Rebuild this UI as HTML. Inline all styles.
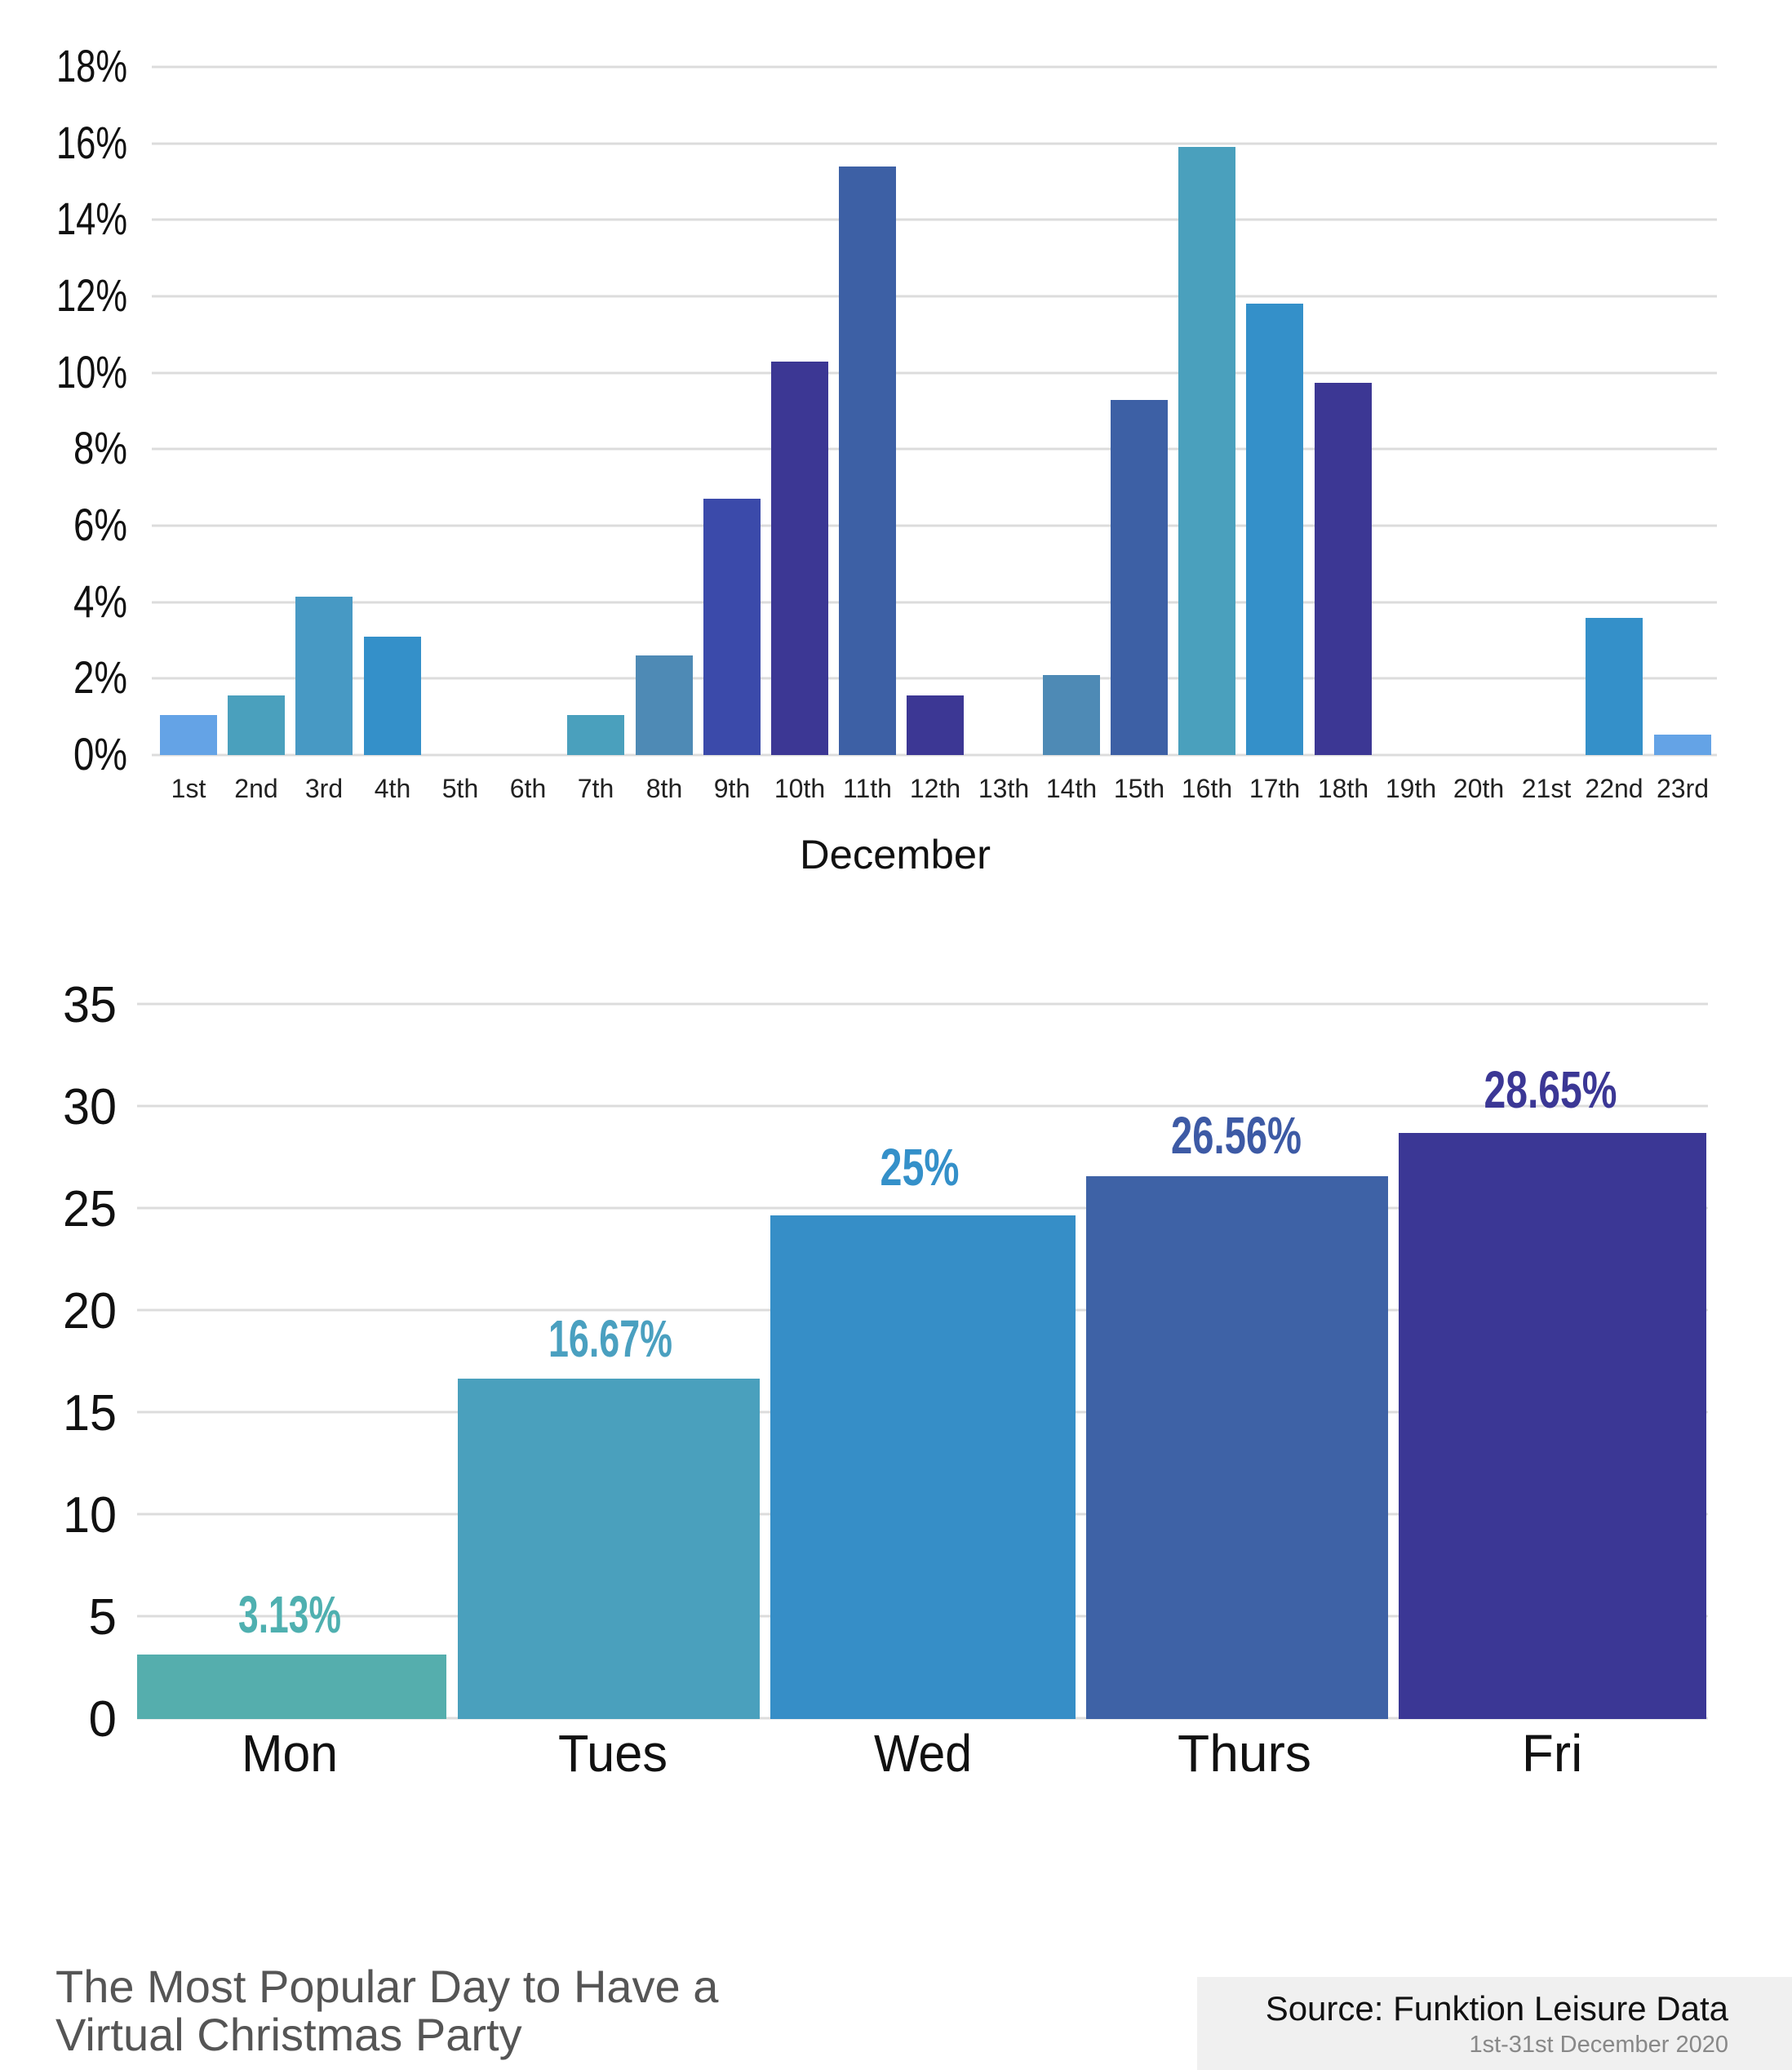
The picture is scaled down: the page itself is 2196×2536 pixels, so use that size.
<!DOCTYPE html>
<html><head><meta charset="utf-8"><style>
html,body{margin:0;padding:0;background:#fff;}
svg{display:block;}
text{font-family:"Liberation Sans Narrow","Liberation Sans",sans-serif;}
</style></head><body>
<svg width="2196" height="2536" viewBox="0 0 2196 2536" xmlns="http://www.w3.org/2000/svg">
<rect width="2196" height="2536" fill="#fff"/>
<g stroke="#dcdcdc" stroke-width="3">
<line x1="186" x2="2104" y1="82" y2="82"/>
<line x1="186" x2="2104" y1="176" y2="176"/>
<line x1="186" x2="2104" y1="269" y2="269"/>
<line x1="186" x2="2104" y1="363" y2="363"/>
<line x1="186" x2="2104" y1="457" y2="457"/>
<line x1="186" x2="2104" y1="550" y2="550"/>
<line x1="186" x2="2104" y1="644" y2="644"/>
<line x1="186" x2="2104" y1="738" y2="738"/>
<line x1="186" x2="2104" y1="831" y2="831"/>
<line x1="186" x2="2104" y1="925" y2="925"/>
</g>
<g font-size="56" fill="#111" text-anchor="end" lengthAdjust="spacingAndGlyphs">
<text x="156" y="100" textLength="87" lengthAdjust="spacingAndGlyphs">18%</text>
<text x="156" y="194" textLength="87" lengthAdjust="spacingAndGlyphs">16%</text>
<text x="156" y="287" textLength="87" lengthAdjust="spacingAndGlyphs">14%</text>
<text x="156" y="381" textLength="87" lengthAdjust="spacingAndGlyphs">12%</text>
<text x="156" y="475" textLength="87" lengthAdjust="spacingAndGlyphs">10%</text>
<text x="156" y="568" textLength="66" lengthAdjust="spacingAndGlyphs">8%</text>
<text x="156" y="662" textLength="66" lengthAdjust="spacingAndGlyphs">6%</text>
<text x="156" y="756" textLength="66" lengthAdjust="spacingAndGlyphs">4%</text>
<text x="156" y="849" textLength="66" lengthAdjust="spacingAndGlyphs">2%</text>
<text x="156" y="943" textLength="66" lengthAdjust="spacingAndGlyphs">0%</text>
</g>
<g>
<rect x="196" y="876" width="70" height="49" fill="#64a3e6"/>
<rect x="279" y="852" width="70" height="73" fill="#4aa0bd"/>
<rect x="362" y="731" width="70" height="194" fill="#4799c4"/>
<rect x="446" y="780" width="70" height="145" fill="#3490c9"/>
<rect x="695" y="876" width="70" height="49" fill="#4aa0bd"/>
<rect x="779" y="803" width="70" height="122" fill="#4e8ab5"/>
<rect x="862" y="611" width="70" height="314" fill="#3b4aaa"/>
<rect x="945" y="443" width="70" height="482" fill="#3c3794"/>
<rect x="1028" y="204" width="70" height="721" fill="#3d60a5"/>
<rect x="1111" y="852" width="70" height="73" fill="#3c3794"/>
<rect x="1278" y="827" width="70" height="98" fill="#4e8ab5"/>
<rect x="1361" y="490" width="70" height="435" fill="#3d60a5"/>
<rect x="1444" y="180" width="70" height="745" fill="#4aa0bd"/>
<rect x="1527" y="372" width="70" height="553" fill="#3490c9"/>
<rect x="1611" y="469" width="70" height="456" fill="#3c3794"/>
<rect x="1943" y="757" width="70" height="168" fill="#3490c9"/>
<rect x="2027" y="900" width="70" height="25" fill="#64a3e6"/>
</g>
<g font-size="32" fill="#222" text-anchor="middle">
<text x="231" y="977">1st</text><text x="314" y="977">2nd</text><text x="397" y="977">3rd</text><text x="481" y="977">4th</text>
<text x="564" y="977">5th</text><text x="647" y="977">6th</text><text x="730" y="977">7th</text><text x="814" y="977">8th</text>
<text x="897" y="977">9th</text><text x="980" y="977">10th</text><text x="1063" y="977">11th</text><text x="1146" y="977">12th</text>
<text x="1230" y="977">13th</text><text x="1313" y="977">14th</text><text x="1396" y="977">15th</text><text x="1479" y="977">16th</text>
<text x="1562" y="977">17th</text><text x="1646" y="977">18th</text><text x="1729" y="977">19th</text><text x="1812" y="977">20th</text>
<text x="1895" y="977">21st</text><text x="1978" y="977">22nd</text><text x="2062" y="977">23rd</text>
</g>
<text x="1097" y="1064" font-size="50" fill="#111" text-anchor="middle" textLength="234" lengthAdjust="spacingAndGlyphs">December</text>

<g stroke="#dcdcdc" stroke-width="3">
<line x1="168" x2="2093" y1="1230" y2="1230"/>
<line x1="168" x2="2093" y1="1355" y2="1355"/>
<line x1="168" x2="2093" y1="1480" y2="1480"/>
<line x1="168" x2="2093" y1="1605" y2="1605"/>
<line x1="168" x2="2093" y1="1730" y2="1730"/>
<line x1="168" x2="2093" y1="1855" y2="1855"/>
<line x1="168" x2="2093" y1="1980" y2="1980"/>
<line x1="168" x2="2093" y1="2105" y2="2105"/>
</g>
<g font-size="62" fill="#111" text-anchor="end">
<text x="143" y="1252" textLength="66" lengthAdjust="spacingAndGlyphs">35</text>
<text x="143" y="1377" textLength="66" lengthAdjust="spacingAndGlyphs">30</text>
<text x="143" y="1502" textLength="66" lengthAdjust="spacingAndGlyphs">25</text>
<text x="143" y="1627" textLength="66" lengthAdjust="spacingAndGlyphs">20</text>
<text x="143" y="1752" textLength="66" lengthAdjust="spacingAndGlyphs">15</text>
<text x="143" y="1877" textLength="66" lengthAdjust="spacingAndGlyphs">10</text>
<text x="143" y="2002">5</text><text x="143" y="2127">0</text>
</g>
<rect x="168" y="2027" width="379" height="79" fill="#55aead"/>
<rect x="561" y="1689" width="370" height="417" fill="#4aa0bd"/>
<rect x="944" y="1489" width="374" height="617" fill="#368ec7"/>
<rect x="1331" y="1441" width="370" height="665" fill="#3e62a6"/>
<rect x="1714" y="1388" width="377" height="718" fill="#3b3795"/>
<g font-size="64" font-weight="bold" text-anchor="middle">
<text x="355" y="2000" fill="#4fb0b0" textLength="126" lengthAdjust="spacingAndGlyphs">3.13%</text>
<text x="748" y="1662" fill="#4aa0c0" textLength="152" lengthAdjust="spacingAndGlyphs">16.67%</text>
<text x="1127" y="1452" fill="#3490c9" textLength="97" lengthAdjust="spacingAndGlyphs">25%</text>
<text x="1515" y="1413" fill="#3d5aa5" textLength="160" lengthAdjust="spacingAndGlyphs">26.56%</text>
<text x="1900" y="1357" fill="#3b3795" textLength="163" lengthAdjust="spacingAndGlyphs">28.65%</text>
</g>
<g font-size="64" fill="#111" text-anchor="middle">
<text x="355" y="2170" textLength="118" lengthAdjust="spacingAndGlyphs">Mon</text>
<text x="751" y="2170" textLength="134" lengthAdjust="spacingAndGlyphs">Tues</text>
<text x="1131" y="2170" textLength="120" lengthAdjust="spacingAndGlyphs">Wed</text>
<text x="1525" y="2170" textLength="164" lengthAdjust="spacingAndGlyphs">Thurs</text>
<text x="1902" y="2170">Fri</text>
</g>

<text x="68" y="2453" font-size="56" fill="#555">The Most Popular Day to Have a</text>
<text x="68" y="2512" font-size="56" fill="#555">Virtual Christmas Party</text>
<rect x="1467" y="2422" width="729" height="114" fill="#f0f0f0"/>
<text x="2118" y="2475" font-size="42" fill="#111" text-anchor="end">Source: Funktion Leisure Data</text>
<text x="2118" y="2514" font-size="29" fill="#888" text-anchor="end">1st-31st December 2020</text>
</svg>
</body></html>
